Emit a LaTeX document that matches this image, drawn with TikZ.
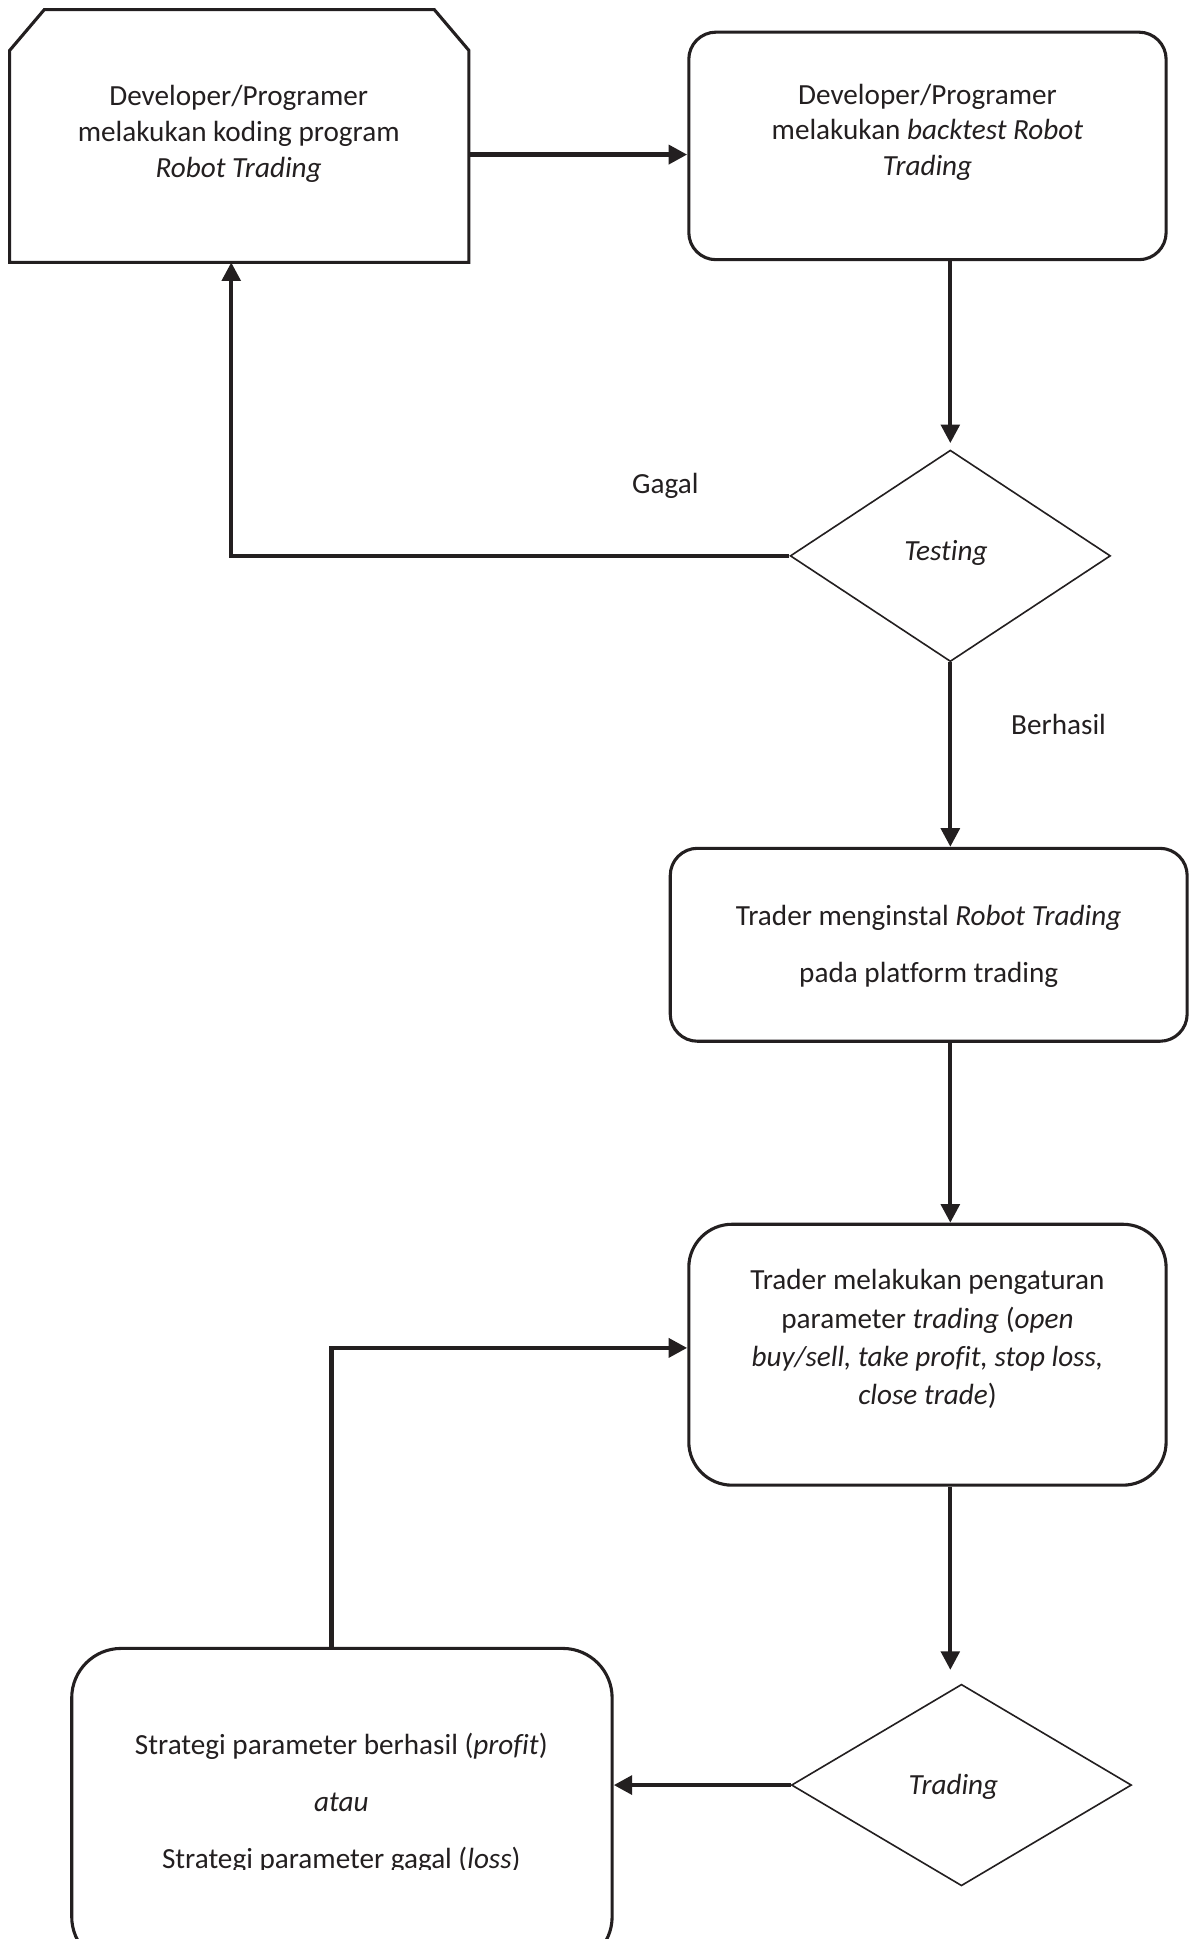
\documentclass[tikz,border=0pt]{standalone}
\usepackage{fontspec}
\setmainfont{Carlito}[Ligatures=NoCommon]
\usetikzlibrary{arrows.meta,shapes.geometric,calc}
\definecolor{ink}{HTML}{231F20}
\begin{document}
\begin{tikzpicture}[x=1pt,y=-1pt,
  boxline/.style={draw=ink,line width=2.5pt},
  rbox/.style={boxline,rectangle,inner sep=0pt},
  dia/.style={draw=ink,line width=1.3pt,diamond,inner sep=0pt},
  txt/.style={text=ink,align=center,inner sep=0pt,font=\fontsize{23.6}{29}\selectfont},
  arr/.style={draw=ink,line width=3.2pt,-{Triangle[length=15pt,width=15pt]}},
  harr/.style={arr,line width=3.8pt}]
\useasboundingbox (0,0) rectangle (968,1568);
\clip (0,0) rectangle (968,1568);
\fill[white] (0,0) rectangle (968,1568);
% box 1 (chamfered)
\node[inner sep=0pt,minimum width=371pt,minimum height=204pt] (b1) at (193.5,110) {};
\draw[boxline,line join=miter] ($(b1.north west)+(0,33)$) -- ($(b1.north west)+(28,0)$) -- ($(b1.north east)+(-28,0)$) -- ($(b1.north east)+(0,33)$) -- (b1.south east) -- (b1.south west) -- cycle;
\node[txt] (t1) at (193,108) {Developer/Programer\\melakukan koding program\\\textit{Robot Trading}};
% box 2
\node[rbox,rounded corners=22pt,minimum width=386pt,minimum height=184pt] (b2) at (750,118) {};
\node[txt] (t2) at (750,107) {Developer/Programer\\melakukan \textit{backtest Robot}\\\textit{Trading}};
% diamond testing
\node[dia,minimum width=259pt,minimum height=171pt] (d1) at (768.5,449.5) {};
\node[txt] (tt) at (765,447) {\textit{Testing}};
\node[txt] (gagal) at (538,393) {Gagal};
\node[txt] (berhasil) at (856,586) {Berhasil};
% box 3
\node[rbox,rounded corners=22pt,minimum width=418pt,minimum height=156pt] (b3) at (751,764) {};
\node[txt,font=\fontsize{23.6}{46}\selectfont] (t3) at (751,765) {Trader menginstal \textit{Robot Trading}\\pada platform trading};
% box 4
\node[rbox,rounded corners=35pt,minimum width=386pt,minimum height=211pt] (b4) at (750,1095.5) {};
\node[txt,font=\fontsize{23.6}{31}\selectfont] (t4) at (750,1083) {Trader melakukan pengaturan\\parameter \textit{trading} (\textit{open}\\\textit{buy/sell, take profit, stop loss,}\\\textit{close trade})};
% diamond trading
\node[dia,minimum width=275pt,minimum height=163pt] (d2) at (777.5,1443.5) {};
\node[txt] (tr) at (771,1445) {\textit{Trading}};
% box 5
\node[rbox,rounded corners=40pt,minimum width=437pt,minimum height=257pt] (b5) at (276.5,1461.5) {};
\node[txt,anchor=base] (t5a) at (276,1418.5) {Strategi parameter berhasil (\textit{profit})};
\node[txt,anchor=base] (t5b) at (276,1464.5) {\textit{atau}};
\begin{scope}
\clip (0,0) rectangle (968,1511.8);
\node[txt,anchor=base] (t5c) at (276,1510.6) {Strategi parameter gagal (\textit{loss})};
\end{scope}
% connectors
\coordinate (a2) at ([yshift=-7pt]b2.west);
\coordinate (a1) at ([xshift=-6.5pt]b1.south);
\coordinate (a5) at ([xshift=-8.5pt]b5.north);
\coordinate (a4) at ([yshift=5.5pt]b4.west);
\draw[harr] (b1.east |- a2) -- (a2);
\draw[arr,shorten >=5pt] (d1.north |- b2.south) -- (d1.north);
\draw[arr] (d1.west) -| (a1);
\draw[arr] (d1.south) -- (d1.south |- b3.north);
\draw[arr] (d1.south |- b3.south) -- (d1.south |- b4.north);
\draw[arr,shorten >=11pt] (d1.south |- b4.south) -- (d1.south |- d2.north);
\draw[harr] (d2.west) -- (d2.west -| b5.east);
\draw[harr] (a5) |- (a4);
\end{tikzpicture}
\end{document}
